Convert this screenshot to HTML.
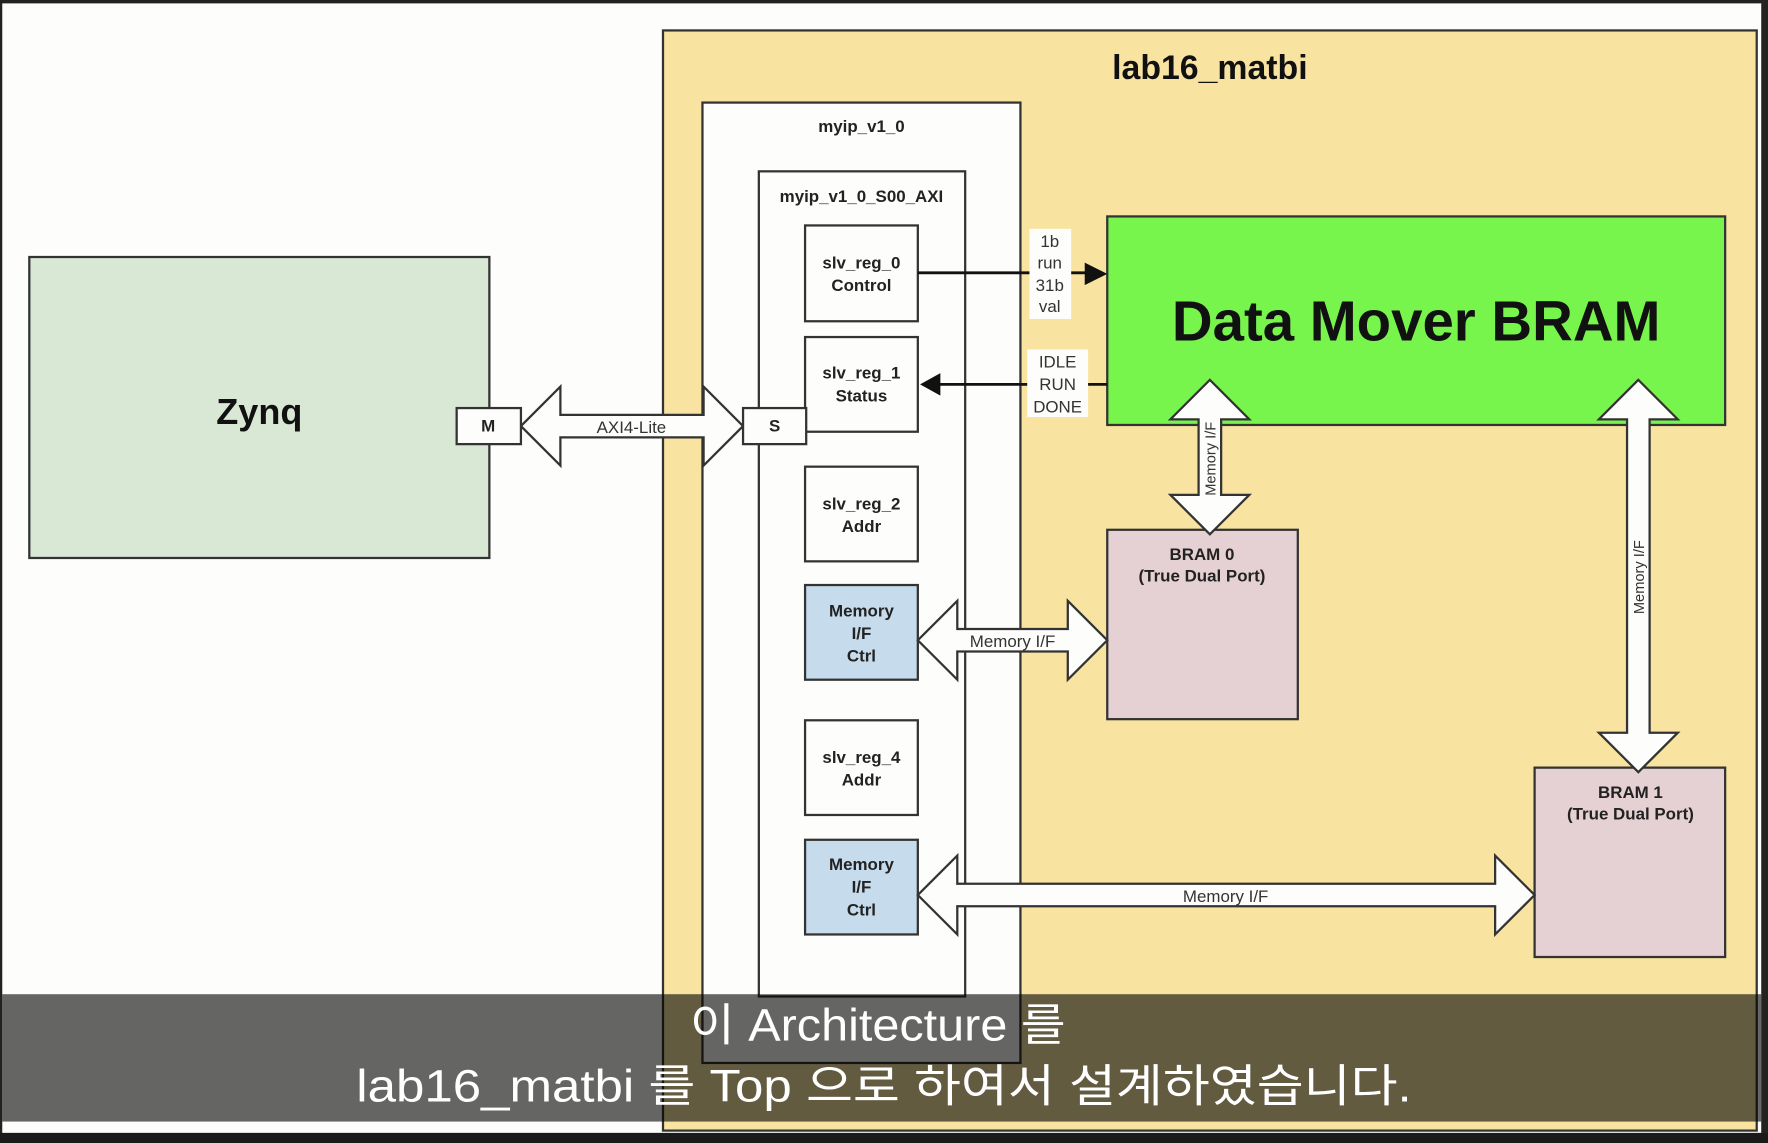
<!DOCTYPE html>
<html><head><meta charset="utf-8"><style>
html,body{margin:0;padding:0;background:#fdfdfb;}
svg{display:block;}
text{font-family:"Liberation Sans","Noto Sans CJK KR",sans-serif;}
</style></head><body>
<svg width="1768" height="1143" viewBox="0 0 1568 1014" preserveAspectRatio="none" xmlns="http://www.w3.org/2000/svg">
<rect width="1568" height="1014" fill="#fdfdfb"/>
<rect x="0" y="0" width="1568" height="3" fill="#222"/>
<rect x="0" y="0" width="2" height="1014" fill="#222"/>
<rect x="1562" y="0" width="6" height="1014" fill="#222"/>
<rect x="0" y="1005" width="1568" height="9" fill="#1a1a1a"/>

<rect x="588" y="27" width="970" height="976" fill="#f8e3a0" stroke="#333" stroke-width="2"/>
<text x="1073" y="70" font-size="30" font-weight="bold" text-anchor="middle" fill="#111">lab16_matbi</text>

<rect x="623" y="91" width="282" height="852" fill="#fdfdfb" stroke="#333" stroke-width="2"/>
<text x="764" y="117" font-size="15" font-weight="bold" text-anchor="middle" fill="#222">myip_v1_0</text>
<rect x="673" y="152" width="183" height="732" fill="#fdfdfb" stroke="#333" stroke-width="2"/>
<text x="764" y="179" font-size="15" font-weight="bold" text-anchor="middle" fill="#222">myip_v1_0_S00_AXI</text>

<g font-size="15" font-weight="bold" text-anchor="middle" fill="#222">
<rect x="714" y="200" width="100" height="85" fill="#fdfdfb" stroke="#333" stroke-width="2"/>
<text x="764" y="238">slv_reg_0</text><text x="764" y="258">Control</text>
<rect x="714" y="299" width="100" height="84" fill="#fdfdfb" stroke="#333" stroke-width="2"/>
<text x="764" y="336">slv_reg_1</text><text x="764" y="356">Status</text>
<rect x="714" y="414" width="100" height="84" fill="#fdfdfb" stroke="#333" stroke-width="2"/>
<text x="764" y="452">slv_reg_2</text><text x="764" y="472">Addr</text>
<rect x="714" y="519" width="100" height="84" fill="#c6dcec" stroke="#333" stroke-width="2"/>
<text x="764" y="547">Memory</text><text x="764" y="567">I/F</text><text x="764" y="587">Ctrl</text>
<rect x="714" y="639" width="100" height="84" fill="#fdfdfb" stroke="#333" stroke-width="2"/>
<text x="764" y="677">slv_reg_4</text><text x="764" y="697">Addr</text>
<rect x="714" y="745" width="100" height="84" fill="#c6dcec" stroke="#333" stroke-width="2"/>
<text x="764" y="772">Memory</text><text x="764" y="792">I/F</text><text x="764" y="812">Ctrl</text>
</g>

<rect x="26" y="228" width="408" height="267" fill="#d9e8d4" stroke="#333" stroke-width="2"/>
<text x="230" y="376" font-size="32" font-weight="bold" text-anchor="middle" fill="#111">Zynq</text>

<polygon points="462,378 497,343 497,368 624,368 624,343 659,378 624,413 624,388 497,388 497,413" fill="#fdfdfb" stroke="#333" stroke-width="2"/>
<text x="560" y="384" font-size="15" text-anchor="middle" fill="#333">AXI4-Lite</text>
<rect x="405" y="362" width="57" height="32" fill="#fdfdfb" stroke="#333" stroke-width="2"/>
<text x="433" y="383" font-size="15" font-weight="bold" text-anchor="middle" fill="#222">M</text>
<rect x="659" y="362" width="56" height="32" fill="#fdfdfb" stroke="#333" stroke-width="2"/>
<text x="687" y="383" font-size="15" font-weight="bold" text-anchor="middle" fill="#222">S</text>

<rect x="982" y="192" width="548" height="185" fill="#77f54c" stroke="#333" stroke-width="2"/>
<text x="1256" y="302" font-size="50" font-weight="bold" text-anchor="middle" fill="#111">Data Mover BRAM</text>

<line x1="814" y1="242" x2="966" y2="242" stroke="#111" stroke-width="2.5"/>
<polygon points="982,243 962,233 962,253" fill="#111"/>
<rect x="913" y="203" width="37" height="80" fill="#fdfdfb"/>
<g font-size="15" text-anchor="middle" fill="#333">
<text x="931" y="219">1b</text><text x="931" y="238">run</text><text x="931" y="258">31b</text><text x="931" y="277">val</text>
</g>
<line x1="982" y1="341" x2="830" y2="341" stroke="#111" stroke-width="2.5"/>
<polygon points="816,341 834,331 834,351" fill="#111"/>
<rect x="911" y="310" width="54" height="60" fill="#fdfdfb"/>
<g font-size="15" text-anchor="middle" fill="#333">
<text x="938" y="326">IDLE</text><text x="938" y="346">RUN</text><text x="938" y="366">DONE</text>
</g>

<rect x="982" y="470" width="169" height="168" fill="#e5d0d3" stroke="#333" stroke-width="2"/>
<text x="1066" y="497" font-size="15" font-weight="bold" text-anchor="middle" fill="#222">BRAM 0</text>
<text x="1066" y="516" font-size="15" font-weight="bold" text-anchor="middle" fill="#222">(True Dual Port)</text>
<rect x="1361" y="681" width="169" height="168" fill="#e5d0d3" stroke="#333" stroke-width="2"/>
<text x="1446" y="708" font-size="15" font-weight="bold" text-anchor="middle" fill="#222">BRAM 1</text>
<text x="1446" y="727" font-size="15" font-weight="bold" text-anchor="middle" fill="#222">(True Dual Port)</text>

<polygon points="1073,337 1108,372 1083,372 1083,439 1108,439 1073,474 1038,439 1063,439 1063,372 1038,372" fill="#fdfdfb" stroke="#333" stroke-width="2"/>
<text transform="translate(1078,407) rotate(-90)" font-size="13" text-anchor="middle" fill="#333">Memory I/F</text>
<polygon points="1453,337 1488,372 1463,372 1463,650 1488,650 1453,685 1418,650 1443,650 1443,372 1418,372" fill="#fdfdfb" stroke="#333" stroke-width="2"/>
<text transform="translate(1458,512) rotate(-90)" font-size="13" text-anchor="middle" fill="#333">Memory I/F</text>

<polygon points="814,568 849,533 849,558 947,558 947,533 982,568 947,603 947,578 849,578 849,603" fill="#fdfdfb" stroke="#333" stroke-width="2"/>
<text x="898" y="574" font-size="15" text-anchor="middle" fill="#333">Memory I/F</text>
<polygon points="814,794 849,759 849,784 1326,784 1326,759 1361,794 1326,829 1326,804 849,804 849,829" fill="#fdfdfb" stroke="#333" stroke-width="2"/>
<text x="1087" y="800" font-size="15" text-anchor="middle" fill="#333">Memory I/F</text>

<rect x="2" y="882" width="1560" height="113" fill="rgba(0,0,0,0.6)"/>
<text x="612" y="923" font-size="40" textLength="333" lengthAdjust="spacingAndGlyphs" fill="#fff">이 Architecture 를</text>
<text x="316" y="977" font-size="40" textLength="936" lengthAdjust="spacingAndGlyphs" fill="#fff">lab16_matbi 를 Top 으로 하여서 설계하였습니다.</text>
</svg>
</body></html>
